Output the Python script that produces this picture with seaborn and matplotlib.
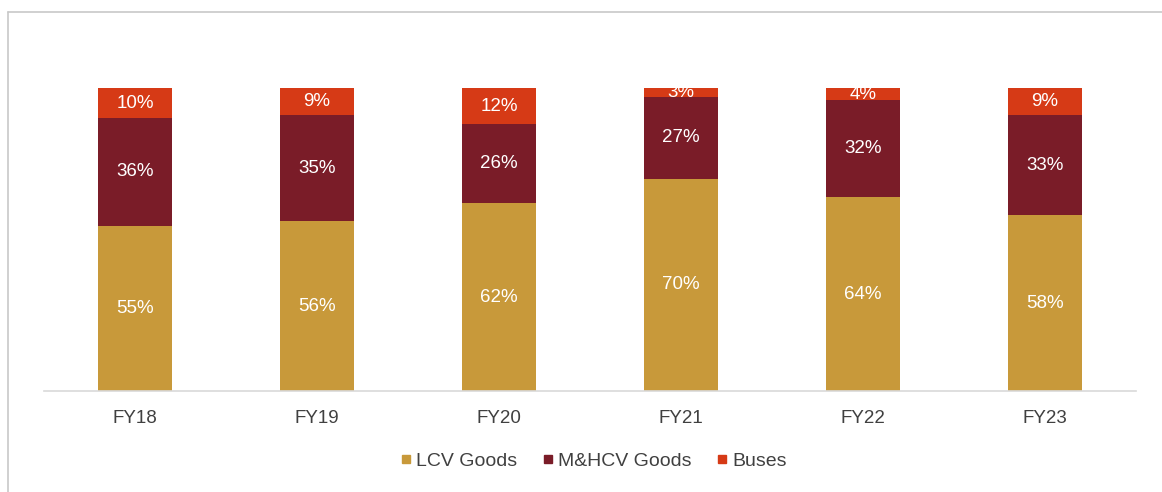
import numpy as np
import pandas as pd
import matplotlib
matplotlib.use("Agg")
import matplotlib.pyplot as plt
from matplotlib.lines import Line2D
import seaborn as sns

# ── Data ─────────────────────────────────────────────────────────────────────
years = ["FY18", "FY19", "FY20", "FY21", "FY22", "FY23"]
lcv_goods = [55, 56, 62, 70, 64, 58]
mhcv_goods = [36, 35, 26, 27, 32, 33]
buses = [10, 9, 12, 3, 4, 9]

series_names = ["LCV Goods", "M&HCV Goods", "Buses"]
colors = {"LCV Goods": "#C8993A", "M&HCV Goods": "#7A1C28", "Buses": "#D63A16"}

raw = pd.DataFrame({"year": years, "LCV Goods": lcv_goods,
                    "M&HCV Goods": mhcv_goods, "Buses": buses})
totals = raw[series_names].sum(axis=1)
share = raw[series_names].div(totals, axis=0) * 100

# ── Plot ─────────────────────────────────────────────────────────────────────
sns.set_theme(style="white")
plt.rcParams["font.family"] = ["Liberation Sans", "DejaVu Sans"]

W, H = 1162, 492
fig = plt.figure(figsize=(W / 100, H / 100), dpi=100)
ax = fig.add_axes([44 / W, 101 / H, 1092 / W, 303 / H])

bottom = np.zeros(len(years))
for name in series_names:
    sns.barplot(x=raw["year"], y=share[name], bottom=bottom, color=colors[name],
                width=0.41, ax=ax, saturation=1, linewidth=0)
    for i, (b, h) in enumerate(zip(bottom, share[name])):
        ax.text(i, b + h / 2, f"{raw[name][i]}%", ha="center", va="center",
                color="white", fontsize=13.5)
    bottom = bottom + share[name].values

ax.set_xlim(-0.5, len(years) - 0.5)
ax.set_ylim(0, 100)
ax.set_xlabel("")
ax.set_ylabel("")
ax.set_yticks([])
for side in ["top", "right", "left"]:
    ax.spines[side].set_visible(False)
ax.spines["bottom"].set_color("#D9D9D9")
ax.spines["bottom"].set_linewidth(1.2)
ax.tick_params(axis="x", length=0, pad=14, labelsize=13.5, labelcolor="#404040")

handles = [Line2D([], [], marker="s", linestyle="", markersize=6,
                  color=colors[n], label=n) for n in series_names]
fig.legend(handles=handles, loc="center", bbox_to_anchor=(594 / W, 1 - 461 / H),
           ncol=3, frameon=False, fontsize=14, handlelength=0.5,
           handletextpad=0.3, columnspacing=1.3, labelcolor="#404040")

# frame around the chart area (left and top edges only are visible)
fig.add_artist(Line2D([8 / W, 8 / W], [0, 1 - 12 / H], color="#C8C8C8",
                      linewidth=1.2, transform=fig.transFigure))
fig.add_artist(Line2D([8 / W, 1], [1 - 12 / H, 1 - 12 / H], color="#C8C8C8",
                      linewidth=1.2, transform=fig.transFigure))

fig.savefig("out.png", dpi=100)
